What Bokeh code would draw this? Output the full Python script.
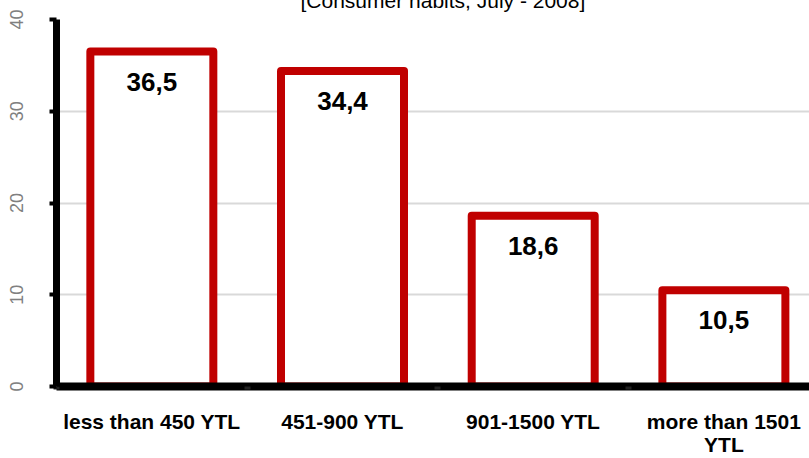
from bokeh.plotting import figure
from bokeh.models import Range1d, FixedTicker, ColumnDataSource
from bokeh.embed import file_html
from bokeh.resources import INLINE
from bokeh.core.properties import value

# ---- data ----
categories = ["less than 450 YTL", "451-900 YTL", "901-1500 YTL", "more than 1501\nYTL"]
shares = [36.5, 34.4, 18.6, 10.5]
share_labels = ["36,5", "34,4", "18,6", "10,5"]
y_ticks = [0, 10, 20, 30, 40]
title_text = "[Consumer habits, July - 2008]"

positions = [i + 0.5 for i in range(len(categories))]
boundaries = [float(i) for i in range(len(categories))]

FONT = "Liberation Sans"
RED = "#C00000"

source = ColumnDataSource(dict(x=positions, top=shares, lab=share_labels))

p = figure(width=809, height=486, margin=(-22, 0, -6, 0),
           x_range=Range1d(0, 3.949), y_range=Range1d(0, 40),
           output_backend="svg", toolbar_location=None,
           min_border_left=56, min_border_right=0,
           min_border_top=41, min_border_bottom=78)
p.outline_line_color = None
p.background_fill_color = "white"
p.border_fill_color = "white"

# title (its top part falls outside the page, as in the reference)
p.title.text = title_text
p.title.align = "left"
p.title.offset = 244
p.title.standoff = 15
p.title.text_font = FONT
p.title.text_font_style = "normal"
p.title.text_font_size = "21px"
p.title.text_color = "black"

# grid
p.xgrid.visible = False
p.ygrid.ticker = FixedTicker(ticks=y_ticks)
p.ygrid.grid_line_color = "#d9d9d9"
p.ygrid.grid_line_width = 2

# bars
p.vbar(x="x", top="top", bottom=0, width=0.645, source=source,
       fill_color="white", line_color=RED, line_width=8, line_join="round")

# value labels
p.text(x="x", y="top", text="lab", source=source,
       text_align="center", text_baseline="alphabetic", y_offset=30,
       text_font=value(FONT), text_font_style="bold", text_font_size="26px",
       text_color="black")

# x axis
xa = p.xaxis[0]
overrides = {}
for pos, cat in zip(positions, categories):
    overrides[pos] = cat
xa.ticker = FixedTicker(ticks=positions, minor_ticks=boundaries)
xa.major_label_overrides = overrides
xa.major_tick_line_color = None
xa.major_tick_out = 0
xa.major_tick_in = 0
xa.minor_tick_in = 0
xa.minor_tick_out = 3
xa.minor_tick_line_width = 6
xa.minor_tick_line_color = "#222222"
xa.axis_line_width = 8
xa.axis_line_color = "black"
xa.major_label_text_font = FONT
xa.major_label_text_font_style = "bold"
xa.major_label_text_font_size = "21px"
xa.major_label_text_line_height = 1.0
xa.major_label_text_color = "black"
xa.major_label_standoff = 20

# y axis
ya = p.yaxis[0]
ya.ticker = FixedTicker(ticks=y_ticks)
ya.major_tick_out = 7
ya.major_tick_in = 0
ya.major_tick_line_width = 4
ya.major_tick_line_color = "black"
ya.minor_tick_line_color = None
ya.axis_line_width = 7
ya.axis_line_color = "black"
ya.major_label_orientation = "vertical"
ya.major_label_text_font = FONT
ya.major_label_text_font_size = "18px"
ya.major_label_text_color = "#808080"
ya.major_label_standoff = 27

open("out.html", "w").write(file_html(p, INLINE))
